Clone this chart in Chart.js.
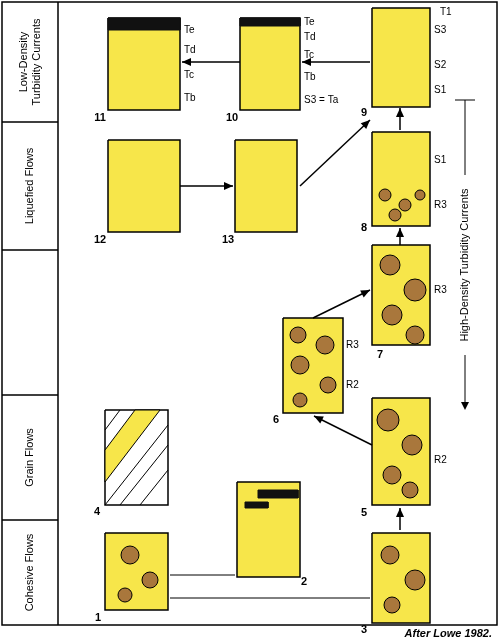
<!DOCTYPE html>
<html><head><meta charset="utf-8">
<script src="https://cdn.jsdelivr.net/npm/chart.js@4"></script>
<style>body{margin:0;background:#fff}#wrap{width:500px;height:644px}</style>
</head><body><div id="wrap"><canvas id="c"></canvas></div>
<script>
// facies columns: id, x1, y1, x2, y2 (diagram units)
const columnIds = ['11','10','9','12','13','8','7','6','5','4','2','1','3'];
const columnBoxes = [
  [108,18,180,110],[240,18,300,110],[372,8,430,107],
  [108,140,180,232],[235,140,297,232],[372,132,430,226],
  [372,245,430,345],[283,318,343,413],[372,398,430,505],
  [105,410,168,505],[237,482,300,577],[105,533,168,610],[372,533,430,623]
];
const columnFill = ['#f7e64a','#f7e64a','#f7e64a','#f7e64a','#f7e64a','#f7e64a','#f7e64a','#f7e64a','#f7e64a','#ffffff','#f7e64a','#f7e64a','#f7e64a'];
const idLabelAt = [[100,118],[232,118],[364,113],[100,240],[228,240],[364,228],[380,355],[276,420],[364,513],[97,512],[304,582],[98,618],[364,630]];
const rowTitles = ['Low-Density\nTurbidity Currents','Liquefied Flows','','Grain Flows','Cohesive Flows'];
const rowBreaks = [2,122,250,395,520,625];
const layerLabels = [['Te',304,22],['Td',304,37],['Tc',304,55],['Tb',304,77],['S3 = Ta',304,100],
  ['Te',184,30],['Td',184,50],['Tc',184,75],['Tb',184,98],
  ['S3',434,30],['S2',434,65],['S1',434,90],['T1',440,12],['S1',434,160],['R3',434,205],
  ['R3',434,290],['R3',346,345],['R2',346,385],['R2',434,460]];
// arrows: from, to
const arrows = [[[240,62],[182,62]],[[370,62],[302,62]],[[180,186],[233,186]],[[300,186],[370,120]],
  [[400,245],[400,228]],[[400,130],[400,108]],[[400,530],[400,508]],[[372,445],[314,416]],[[313,318],[370,290]]];
const connectors = [[[170,575],[235,575]],[[170,598],[370,598]]];
const gravel = [[130,555,9],[150,580,8],[125,595,7],[390,555,9],[415,580,10],[392,605,8],[388,420,11],[412,445,10],[392,475,9],[410,490,8],
  [298,335,8],[325,345,9],[300,365,9],[328,385,8],[300,400,7],[390,265,10],[415,290,11],[392,315,10],[415,335,9],[385,195,6],[405,205,6],[420,195,5],[395,215,6]];
const darkBands = [[108,18,180,30],[240,18,300,26],[258,490,298,498],[245,502,268,508]];
const grainBand = [[105,450],[135,410],[160,410],[105,482]];
const hatch = [[[105,430],[120,410]],[[120,505],[168,445]],[[140,505],[168,470]],[[105,505],[168,425]]];

const rect = ([a,b,c,d]) => [{x:a,y:b},{x:c,y:b},{x:c,y:d},{x:a,y:d},{x:a,y:b}];
const ds = [];
columnBoxes.forEach((b,i) => ds.push({type:'line',order:10,data:rect(b),fill:'shape',backgroundColor:columnFill[i],borderColor:'#000',borderWidth:1.5,pointRadius:0}));
darkBands.forEach(b => ds.push({type:'line',order:5,data:rect(b),fill:'shape',backgroundColor:'#111',borderColor:'#111',borderWidth:1,pointRadius:0}));
ds.push({type:'line',order:5,data:[...grainBand,grainBand[0]].map(p=>({x:p[0],y:p[1]})),fill:'shape',backgroundColor:'#f7e64a',borderColor:'#000',borderWidth:1,pointRadius:0});
hatch.forEach(l => ds.push({type:'line',order:6,data:l.map(p=>({x:p[0],y:p[1]})),borderColor:'#000',borderWidth:1,pointRadius:0}));
ds.push({type:'scatter',order:5,data:gravel.map(g=>({x:g[0],y:g[1]})),pointRadius:gravel.map(g=>g[2]),backgroundColor:'#a9773c',borderColor:'#000',borderWidth:1});
connectors.forEach(l => ds.push({type:'line',order:1,data:l.map(p=>({x:p[0],y:p[1]})),borderColor:'#000',borderWidth:1,pointRadius:0}));
arrows.forEach(l => ds.push({type:'line',order:1,data:l.map(p=>({x:p[0],y:p[1]})),borderColor:'#000',borderWidth:1.5,pointRadius:0}));

const decor = {id:'decor',afterDatasetsDraw(ch){
  const c=ch.ctx,X=ch.scales.x,Y=ch.scales.y,px=v=>X.getPixelForValue(v),py=v=>Y.getPixelForValue(v);
  c.save();c.strokeStyle='#000';c.fillStyle='#000';c.lineWidth=1.5;
  arrows.forEach(([a,b])=>{const ang=Math.atan2(py(b[1])-py(a[1]),px(b[0])-px(a[0]));c.save();c.translate(px(b[0]),py(b[1]));c.rotate(ang);
    c.beginPath();c.moveTo(0,0);c.lineTo(-9,-4);c.lineTo(-9,4);c.closePath();c.fill();c.restore();});
  c.strokeRect(px(2),py(2),px(497)-px(2),py(625)-py(2));
  c.beginPath();c.moveTo(px(58),py(2));c.lineTo(px(58),py(625));
  rowBreaks.slice(1,-1).forEach(y=>{c.moveTo(px(2),py(y));c.lineTo(px(58),py(y));});c.stroke();
  c.textAlign='center';c.textBaseline='middle';c.font='11px "Liberation Sans"';
  rowTitles.forEach((t,i)=>{const m=(rowBreaks[i]+rowBreaks[i+1])/2;c.save();c.translate(px(30),py(m));c.rotate(-Math.PI/2);
    const ls=t.split('\n');ls.forEach((l,j)=>c.fillText(l,0,(j-(ls.length-1)/2)*13));c.restore();});
  c.save();c.translate(px(465),py(265));c.rotate(-Math.PI/2);c.fillText('High-Density Turbidity Currents',0,0);c.restore();
  c.lineWidth=1;c.beginPath();c.moveTo(px(465),py(100));c.lineTo(px(465),py(175));c.moveTo(px(465),py(355));c.lineTo(px(465),py(405));c.moveTo(px(455),py(100));c.lineTo(px(475),py(100));c.stroke();
  c.beginPath();c.moveTo(px(465),py(410));c.lineTo(px(461),py(402));c.lineTo(px(469),py(402));c.fill();
  c.font='bold 11px "Liberation Sans"';
  idLabelAt.forEach((p,i)=>c.fillText(columnIds[i],px(p[0]),py(p[1])));
  c.font='10px "Liberation Sans"';c.textAlign='left';
  layerLabels.forEach(l=>c.fillText(l[0],px(l[1]),py(l[2])));
  c.font='italic bold 11px "Liberation Sans"';c.textAlign='right';c.fillText('After Lowe 1982.',px(492),py(634));
  c.restore();}};

new Chart(document.getElementById('c'),{
  data:{datasets:ds},
  options:{responsive:true,maintainAspectRatio:false,animation:false,layout:{padding:0,autoPadding:false},
    plugins:{legend:{display:false},tooltip:{enabled:false}},
    scales:{x:{type:'linear',min:0,max:500,display:false},y:{type:'linear',min:0,max:644,reverse:true,display:false}}},
  plugins:[decor]
});
</script></body></html>
